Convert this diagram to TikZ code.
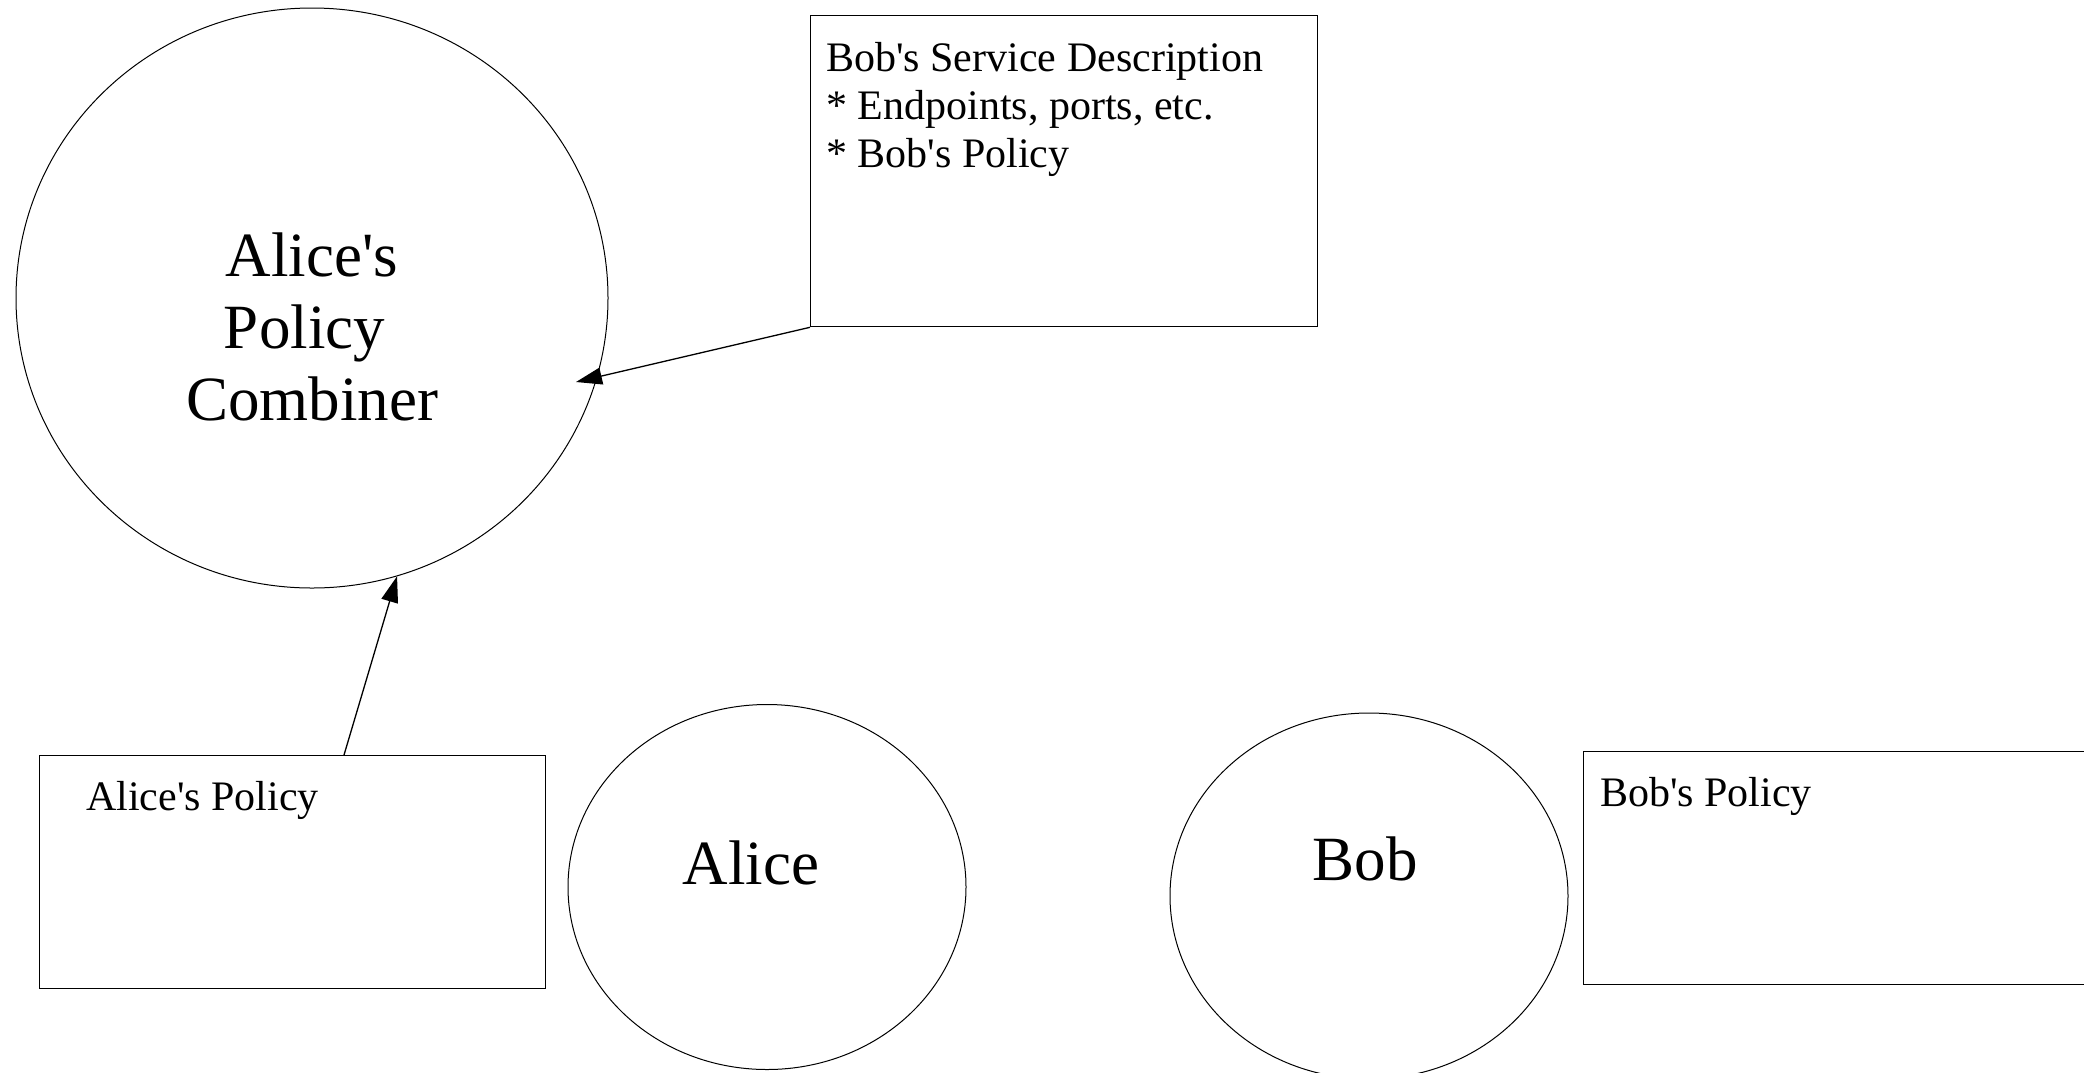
\documentclass[tikz,border=0pt]{standalone}
\usepackage{fontspec}
\setmainfont{Liberation Serif}
\usetikzlibrary{shapes.geometric,arrows.meta}
% straight typewriter-style apostrophe
\newcommand{\sq}{\textquotesingle}
\begin{document}
\begin{tikzpicture}[x=1pt,y=-1pt,
  box/.style={draw, line width=1.3pt, rectangle, inner sep=0pt, anchor=north west},
  blob/.style={draw, line width=1pt, ellipse, inner sep=0pt},
  small/.style={font=\fontsize{42}{48}\selectfont, inner sep=0pt, anchor=north west, align=left},
  big/.style={font=\fontsize{63}{72}\selectfont, inner sep=0pt},
  link/.style={line width=1.3pt, -{Triangle[length=26pt,width=17pt]}}]
\useasboundingbox (0,0) rectangle (2084,1072);
\clip (0,0) rectangle (2084,1072);

% actors and the combiner
\node[blob, minimum width=592pt, minimum height=580pt] (comb) at (312,298) {};
\node[blob, minimum width=398pt, minimum height=365pt] (alice) at (767,887) {};
\node[blob, minimum width=398pt, minimum height=366pt] (bob) at (1369,896) {};
\node[big, align=center, anchor=north] (combt) at (312,233)
  {Alice\sq s\\Policy\hbox to 15pt{}\\Combiner};
\node[big, anchor=base] (alicet) at (751,884) {Alice};
\node[big, anchor=base] (bobt) at (1365,880) {Bob};

% documents
\node[box, minimum width=507pt, minimum height=311pt] (sd) at (810,15) {};
\node[box, minimum width=506.5pt, minimum height=232.5pt] (ap) at (38.5,755) {};
\node[box, minimum width=530pt, minimum height=233pt] (bp) at (1583,751) {};
\node[small] (sdt) at (826,42.3)
  {Bob\sq s Service Description\\* Endpoints, ports, etc.\\* Bob\sq s Policy};
\node[small] (apt) at (86,781.3) {Alice\sq s Policy};
\node[small] (bpt) at (1600,777.3) {Bob\sq s Policy};

% flows into the combiner
\coordinate (tipB) at (576,382);
\draw[link] ([xshift=305.5pt]ap.north west) -- (comb.-73.1);
\draw[link] (sd.south west) -- (tipB);
\end{tikzpicture}
\end{document}
